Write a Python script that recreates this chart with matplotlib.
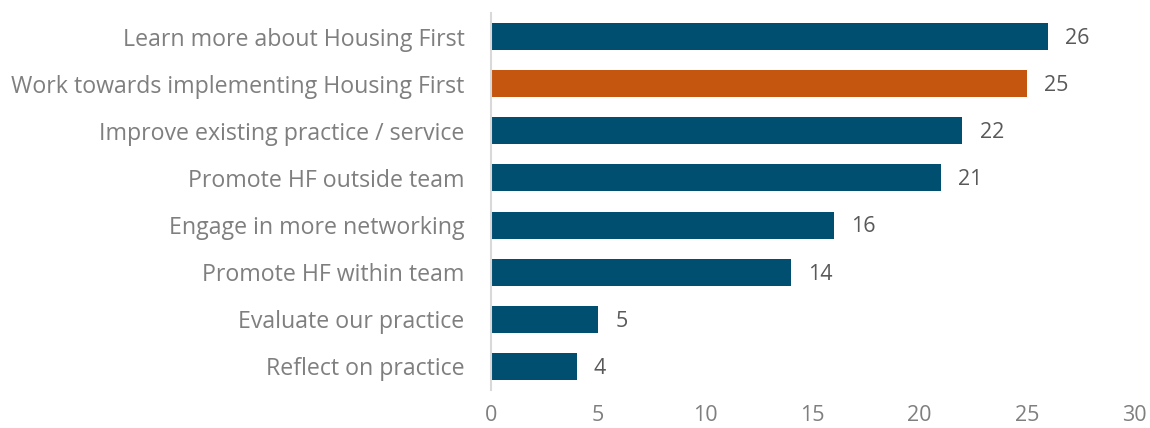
import matplotlib
matplotlib.use("Agg")
import matplotlib.pyplot as plt

categories = ["Learn more about Housing First", "Work towards implementing Housing First",
              "Improve existing practice / service", "Promote HF outside team",
              "Engage in more networking", "Promote HF within team",
              "Evaluate our practice", "Reflect on practice"]
values = [26, 25, 22, 21, 16, 14, 5, 4]
highlight = "Work towards implementing Housing First"
xticks = [0, 5, 10, 15, 20, 25, 30]

blue = "#004f71"
orange = "#c5560f"
label_gray = "#7f7f7f"
value_gray = "#595959"

plt.rcParams['font.family'] = ['Open Sans', 'DejaVu Sans']

fig = plt.figure(figsize=(11.5, 4.28), dpi=100)
ax = fig.add_axes([0.427, 0.0888, 0.986 - 0.427, 0.9696 - 0.0888])

ypos = list(range(len(categories)))
colors = [orange if c == highlight else blue for c in categories]
ax.barh(ypos, values, height=0.573, color=colors)
for y, v in zip(ypos, values):
    ax.text(v + 0.8, y + 0.04, str(v), va='center', ha='left', fontsize=15.5, color=value_gray)

ax.set_ylim(len(categories) - 0.5, -0.5)
ax.set_xlim(0, 30)
ax.set_yticks(ypos)
ax.set_yticklabels(categories, fontsize=16.7, color=label_gray)
ax.set_xticks(xticks)
ax.set_xticklabels([str(t) for t in xticks], fontsize=15.5, color=label_gray)
ax.tick_params(axis='both', length=0)
ax.tick_params(axis='y', pad=19)
ax.tick_params(axis='x', pad=11)
for s in ['top', 'right', 'bottom']:
    ax.spines[s].set_visible(False)
ax.spines['left'].set_color('#d9d9d9')
ax.spines['left'].set_linewidth(1.5)

fig.savefig("out.png", dpi=100)
